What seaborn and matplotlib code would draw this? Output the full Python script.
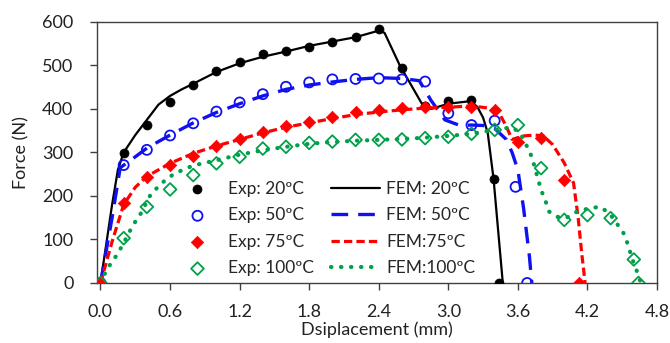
import matplotlib
matplotlib.use("Agg")
import matplotlib.pyplot as plt
import seaborn as sns
import pandas as pd

sns.set_style("ticks")
plt.rcParams["font.family"] = ["Lato", "DejaVu Sans"]

# Experimental force-displacement measurements
exp20_x = [0.0, 0.2, 0.4, 0.6, 0.8, 1.0, 1.2, 1.4, 1.6, 1.8, 2.0, 2.2, 2.4, 2.6, 2.8, 3.0, 3.2, 3.39, 3.44]
exp20_y = [0, 298, 363, 417, 455, 488, 508, 526, 534, 543, 554, 565, 583, 495, 407, 419, 420, 240, 0]

exp50_x = [0.0, 0.2, 0.4, 0.6, 0.8, 1.0, 1.2, 1.4, 1.6, 1.8, 2.0, 2.2, 2.4, 2.6, 2.8, 3.0, 3.2, 3.4, 3.58, 3.68]
exp50_y = [0, 271, 306, 339, 367, 394, 415, 434, 451, 461, 468, 469, 470, 468, 463, 390, 363, 373, 221, 0]

exp75_x = [0.0, 0.2, 0.4, 0.6, 0.8, 1.0, 1.2, 1.4, 1.6, 1.8, 2.0, 2.2, 2.4, 2.6, 2.8, 3.0, 3.2, 3.4, 3.6, 3.8, 4.0, 4.13]
exp75_y = [0, 183, 244, 271, 293, 316, 331, 346, 361, 371, 382, 392, 398, 403, 404, 404, 405, 398, 325, 333, 237, 0]

exp100_x = [0.0, 0.2, 0.4, 0.6, 0.8, 1.0, 1.2, 1.4, 1.6, 1.8, 2.0, 2.2, 2.4, 2.6, 2.8, 3.0, 3.2, 3.4, 3.6, 3.8, 4.0, 4.2, 4.4, 4.6, 4.64]
exp100_y = [0, 103, 175, 215, 248, 275, 290, 309, 313, 322, 325, 329, 329, 330, 333, 336, 343, 352, 363, 264, 145, 156, 149, 54, 0]

# Finite element predictions
fem20_x = [0.0, 0.05, 0.1, 0.15, 0.2, 0.3, 0.4, 0.5, 0.6, 0.7, 0.8, 1.0, 1.2, 1.4, 1.6, 1.8, 2.0, 2.2, 2.4,
           2.45, 2.58, 2.77, 2.85, 3.0, 3.19, 3.25, 3.3, 3.34, 3.39, 3.43, 3.47]
fem20_y = [0, 90, 180, 260, 300, 340, 375, 410, 430, 445, 458, 485, 505, 520, 532, 545, 555, 565, 580,
           575, 501, 413, 400, 412, 418, 405, 380, 345, 240, 120, 0]

fem50_x = [0.0, 0.1, 0.17, 0.3, 0.4, 0.6, 0.8, 1.0, 1.2, 1.4, 1.6, 1.8, 2.0, 2.2, 2.4, 2.6, 2.75, 2.85,
           2.97, 3.1, 3.2, 3.3, 3.4, 3.5, 3.55, 3.6, 3.65, 3.7, 3.72]
fem50_y = [0, 150, 265, 290, 310, 340, 368, 392, 412, 430, 445, 455, 462, 468, 472, 470, 465, 420,
           375, 362, 363, 362, 355, 330, 300, 260, 170, 60, 0]

fem75_x = [0.0, 0.1, 0.2, 0.3, 0.4, 0.6, 0.8, 1.0, 1.2, 1.4, 1.6, 1.8, 2.0, 2.2, 2.4, 2.6, 2.8, 3.0, 3.2,
           3.35, 3.45, 3.5, 3.55, 3.65, 3.75, 3.82, 3.9, 4.0, 4.08, 4.12, 4.15, 4.18]
fem75_y = [0, 95, 180, 220, 245, 275, 298, 315, 330, 345, 358, 368, 378, 387, 393, 398, 402, 404, 407,
           402, 385, 360, 330, 338, 340, 338, 318, 276, 230, 150, 70, 0]

fem100_x = [0.0, 0.03, 0.08, 0.14, 0.19, 0.28, 0.34, 0.43, 0.51, 0.58, 0.65, 0.8, 1.0, 1.2, 1.4, 1.6, 1.8,
            2.0, 2.2, 2.4, 2.6, 2.8, 3.0, 3.2, 3.4, 3.55, 3.62, 3.68, 3.72, 3.8, 3.84, 3.87, 3.94, 4.02,
            4.11, 4.22, 4.31, 4.39, 4.45, 4.51, 4.54, 4.6, 4.64, 4.66]
fem100_y = [0, 18, 41, 64, 87, 133, 156, 202, 225, 241, 253, 270, 282, 295, 305, 313, 320,
            324, 327, 329, 331, 334, 338, 343, 352, 358, 345, 313, 290, 214, 187, 164, 152, 150,
            164, 172, 175, 160, 138, 115, 95, 45, 18, 0]

x_ticks = [0.0, 0.6, 1.2, 1.8, 2.4, 3.0, 3.6, 4.2, 4.8]
y_ticks = [0, 100, 200, 300, 400, 500, 600]

BLACK, BLUE, RED, GREEN = "#000000", "#1010f0", "#ff0000", "#00a04a"

fig = plt.figure(figsize=(6.7, 3.43), dpi=100)
ax = fig.add_axes([0.1448, 0.175, 0.8358, 0.7610])

# Experimental markers
exp_series = [
    ("Exp: 20ºC", exp20_x, exp20_y, dict(marker="o", s=42, color=BLACK, edgecolor=BLACK)),
    ("Exp: 50ºC", exp50_x, exp50_y, dict(marker="o", s=52, facecolor="none", edgecolor=BLUE, linewidth=1.3)),
    ("Exp: 75ºC", exp75_x, exp75_y, dict(marker="D", s=40, color=RED, edgecolor=RED)),
    ("Exp: 100ºC", exp100_x, exp100_y, dict(marker="D", s=42, facecolor="none", edgecolor=GREEN, linewidth=1.3)),
]
for label, xs, ys, kw in exp_series:
    df = pd.DataFrame({"disp": xs, "force": ys})
    sns.scatterplot(data=df, x="disp", y="force", ax=ax, label=label, zorder=3, **kw)

# FEM curves
fem_series = [
    ("FEM: 20ºC", fem20_x, fem20_y, dict(color=BLACK, linewidth=1.6, linestyle="-")),
    ("FEM: 50ºC", fem50_x, fem50_y, dict(color=BLUE, linewidth=2.4, linestyle=(0, (5, 3)))),
    ("FEM:75ºC", fem75_x, fem75_y, dict(color=RED, linewidth=2.3, linestyle=(0, (2.6, 1.3)))),
    ("FEM:100ºC", fem100_x, fem100_y, dict(color=GREEN, linewidth=3.0, linestyle=(0, (0.1, 2.3)),
                                          dash_capstyle="round")),
]
for label, xs, ys, kw in fem_series:
    df = pd.DataFrame({"disp": xs, "force": ys})
    sns.lineplot(data=df, x="disp", y="force", ax=ax, label=label, sort=False,
                 estimator=None, zorder=2, **kw)

ax.set_xlim(-0.03, 4.8)
ax.set_ylim(0, 600)
ax.set_xticks(x_ticks)
ax.set_xticklabels([f"{t:.1f}" for t in x_ticks])
ax.set_yticks(y_ticks)
ax.tick_params(axis="both", labelsize=13, length=5, width=1, color="#404040", labelcolor="#222222", pad=12)
ax.tick_params(axis="x", pad=10)
for s in ax.spines.values():
    s.set_color("#404040")
    s.set_linewidth(1)
ax.set_xlabel("Dsiplacement (mm)", fontsize=13, color="#222222", labelpad=1)
ax.set_ylabel("Force (N)", fontsize=13, color="#222222", labelpad=9)

handles, labels = ax.get_legend_handles_labels()
ax.legend(handles, labels, ncol=2, loc="upper left", bbox_to_anchor=(0.136, 0.391),
          frameon=False, fontsize=12.5, handlelength=2.8, handletextpad=0.35,
          columnspacing=1.0, labelspacing=0.6, borderpad=0, borderaxespad=0)

fig.savefig("out.png", dpi=100)
